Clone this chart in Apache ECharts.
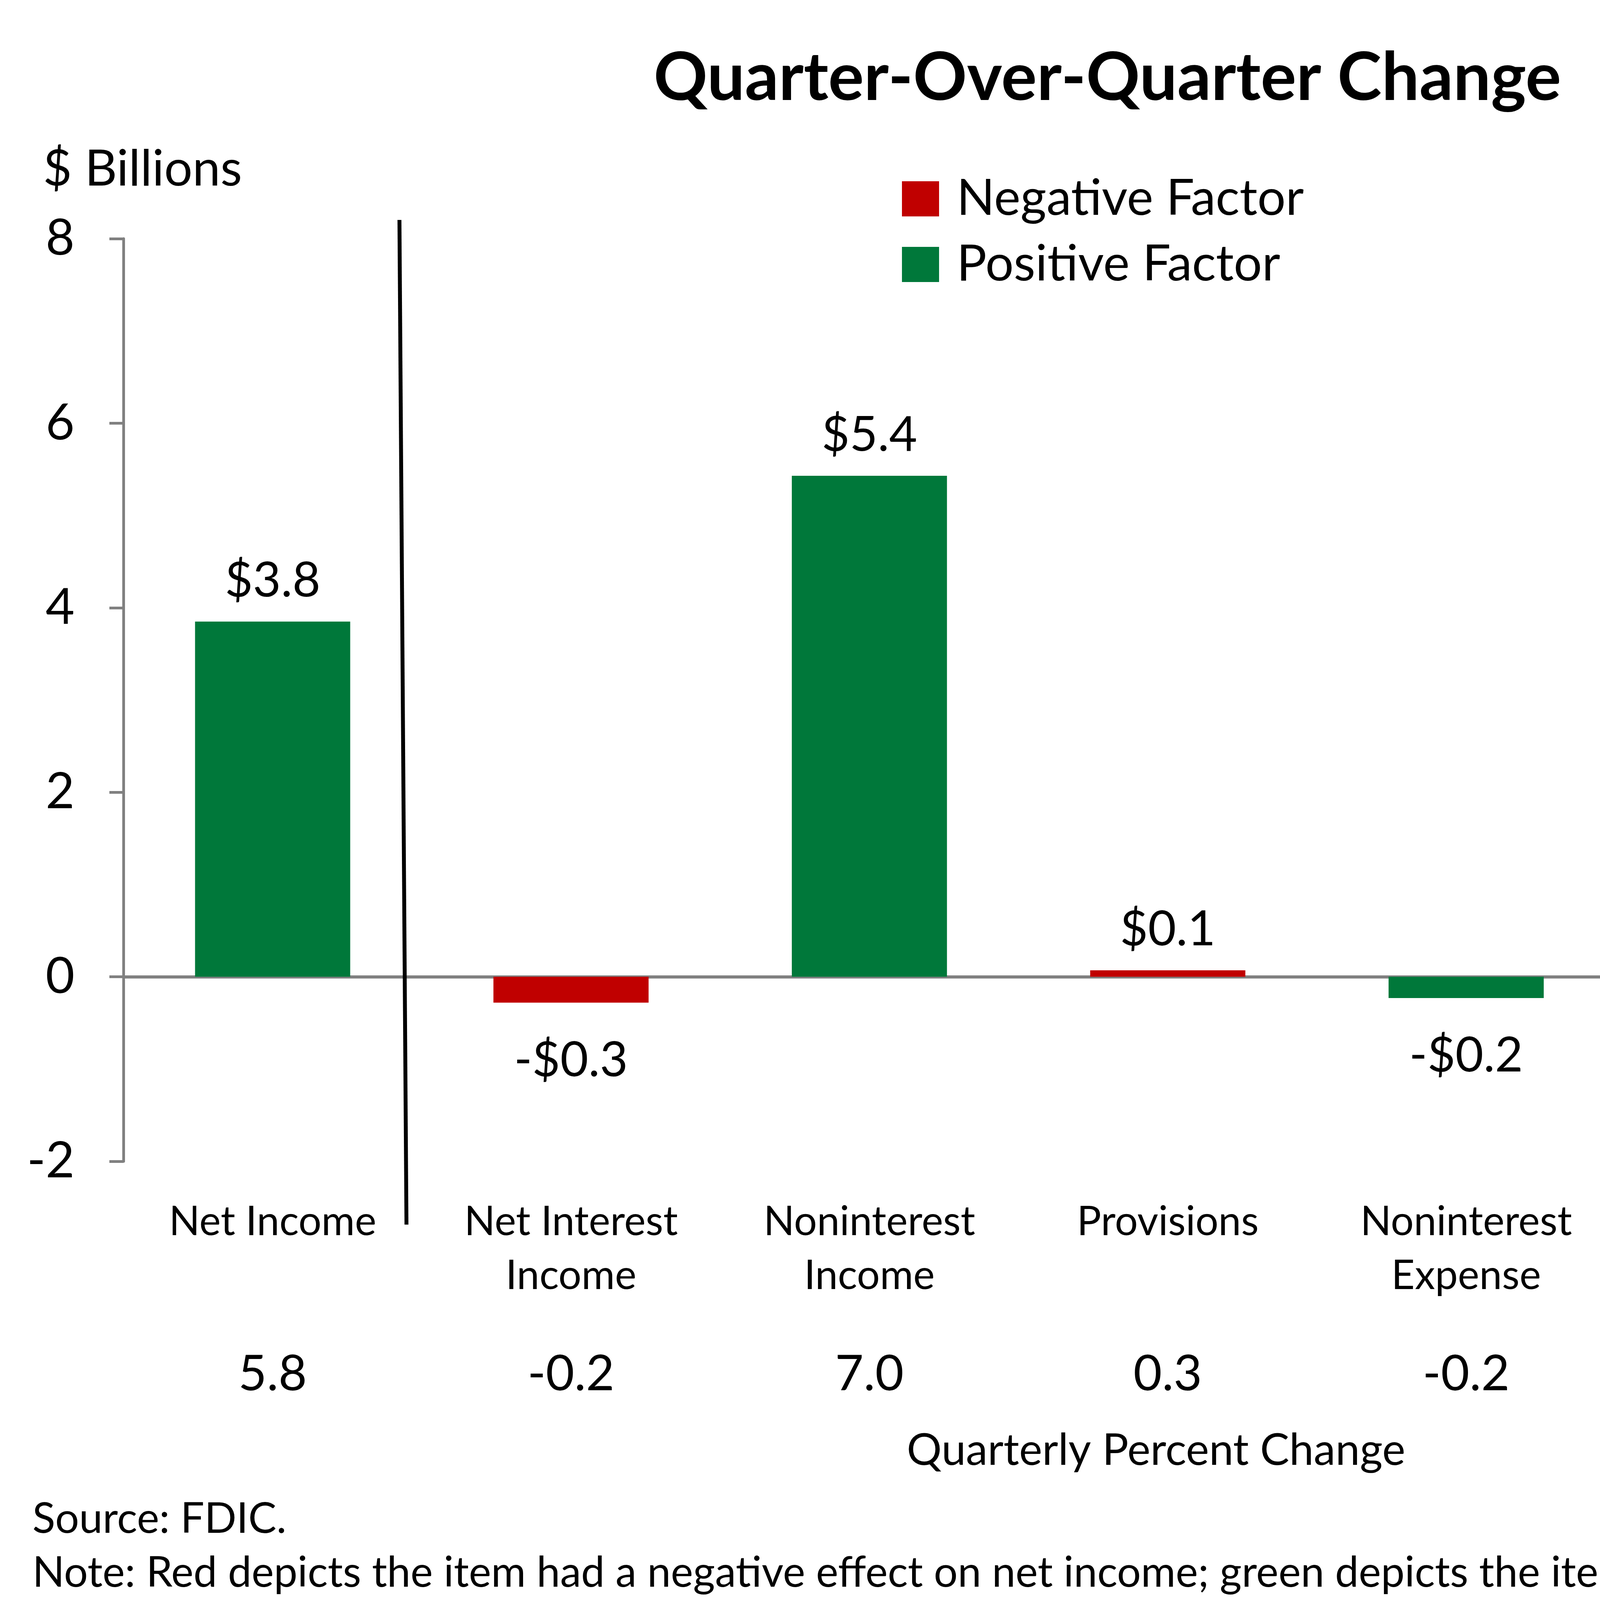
<!DOCTYPE html>
<html>
<head>
<meta charset="utf-8">
<script src="https://cdn.jsdelivr.net/npm/echarts@6/dist/echarts.min.js"></script>
<style>
html,body{margin:0;padding:0;background:#fff;}
#chart{width:5670px;height:4120px;}
</style>
</head>
<body>
<div id="chart"></div>
<script>
var categories = ["Net Income", "Net Interest\nIncome", "Noninterest\nIncome", "Provisions", "Noninterest\nExpense", "Securities Gains\n(Losses)", "Applicable\nIncome Taxes"];
var values = [3.85, -0.28, 5.43, 0.07, -0.23, 1.39, 2.85];
var valueLabels = ["$3.8", "-$0.3", "$5.4", "$0.1", "-$0.2", "$1.4", "$2.9"];
var factorType = ["pos", "neg", "pos", "neg", "pos", "pos", "neg"];
var pctChange = ["5.8", "-0.2", "7.0", "0.3", "-0.2", "-41.9", "18.3"];
var yTicks = [-2, 0, 2, 4, 6, 8];

var RED = "#C00000", GREEN = "#00783A", FONT = "Lato";

function buildData(kind) {
  return values.map(function (v, i) {
    if (factorType[i] !== kind) return "-";
    return {
      value: v,
      label: { position: v >= 0 ? "top" : "bottom", distance: v >= 0 ? 42 : 86 }
    };
  });
}

var chart = echarts.init(document.getElementById("chart"));
var labelCommon = {
  show: true, fontSize: 124, fontFamily: FONT, color: "#000",
  formatter: function (p) { return valueLabels[p.dataIndex]; }
};

chart.setOption({
  backgroundColor: "#fff",
  animation: false,
  title: [
    { text: "Quarter-Over-Quarter Change", left: "center", top: 110,
      textStyle: { fontSize: 171, fontWeight: "bold", fontFamily: FONT, color: "#000" } },
    { text: "$ Billions", left: 105, top: 365,
      textStyle: { fontSize: 128, fontWeight: "normal", fontFamily: FONT, color: "#000" } },
    { text: "Source: FDIC.", left: 78, top: 3830,
      textStyle: { fontSize: 108, fontWeight: "normal", fontFamily: FONT, color: "#000" } },
    { text: "Note: Red depicts the item had a negative effect on net income; green depicts the item had a positive effect.", left: 78, top: 3968,
      textStyle: { fontSize: 108, fontWeight: "normal", fontFamily: FONT, color: "#000" } }
  ],
  legend: {
    orient: "vertical", left: 2304, top: 440,
    itemWidth: 95, itemHeight: 90, itemGap: 40,
    icon: "rect",
    data: ["Negative Factor", "Positive Factor"],
    textStyle: { fontSize: 128, fontFamily: FONT, color: "#000", padding: [0, 0, 0, 40], lineHeight: 128 }
  },
  grid: { left: 316, right: 7, top: 611, bottom: 1147, containLabel: false },
  xAxis: [
    { type: "category", data: categories, position: "bottom",
      axisLine: { show: true, onZero: true, lineStyle: { color: "#808080", width: 8 } },
      axisTick: { show: false }, axisLabel: { show: false }, splitLine: { show: false } },
    { type: "category", data: categories, position: "bottom",
      axisLine: { show: false, onZero: false }, axisTick: { show: false },
      axisLabel: { show: true, margin: 86, fontSize: 104, lineHeight: 138, fontFamily: FONT, color: "#000", interval: 0 } },
    { type: "category", data: pctChange, position: "bottom",
      axisLine: { show: false, onZero: false }, axisTick: { show: false },
      axisLabel: { show: true, margin: 482, fontSize: 126, fontFamily: FONT, color: "#000", interval: 0 },
      name: "Quarterly Percent Change", nameLocation: "middle", nameGap: 685,
      nameTextStyle: { fontSize: 112, fontFamily: FONT, color: "#000", verticalAlign: "top", padding: [0, 60, 0, 0] } }
  ],
  yAxis: {
    type: "value", min: yTicks[0], max: yTicks[yTicks.length - 1], interval: 2,
    axisLine: { show: true, lineStyle: { color: "#808080", width: 7 } },
    axisTick: { show: true, length: 36, lineStyle: { color: "#808080", width: 7 } },
    axisLabel: { fontSize: 128, fontFamily: FONT, color: "#000", margin: 125 },
    splitLine: { show: false }
  },
  series: [
    { name: "Negative Factor", type: "bar", stack: "f", barWidth: "52%",
      itemStyle: { color: RED }, label: labelCommon, data: buildData("neg") },
    { name: "Positive Factor", type: "bar", stack: "f", barWidth: "52%",
      itemStyle: { color: GREEN }, label: labelCommon, data: buildData("pos") }
  ]
});

// separator line between Net Income and the component factors
var c0 = chart.convertToPixel({ xAxisIndex: 0 }, 0);
var c1 = chart.convertToPixel({ xAxisIndex: 0 }, 1);
var yTop = chart.convertToPixel({ yAxisIndex: 0 }, yTicks[yTicks.length - 1]) - 48;
var yBot = chart.convertToPixel({ yAxisIndex: 0 }, yTicks[0]) + 162;
var sx = c0 + (c1 - c0) * 0.425;
chart.setOption({
  graphic: [{
    type: "line", z: 100,
    shape: { x1: sx, y1: yTop, x2: sx + 18, y2: yBot },
    style: { stroke: "#000", lineWidth: 10 }
  }]
});
</script>
</body>
</html>
